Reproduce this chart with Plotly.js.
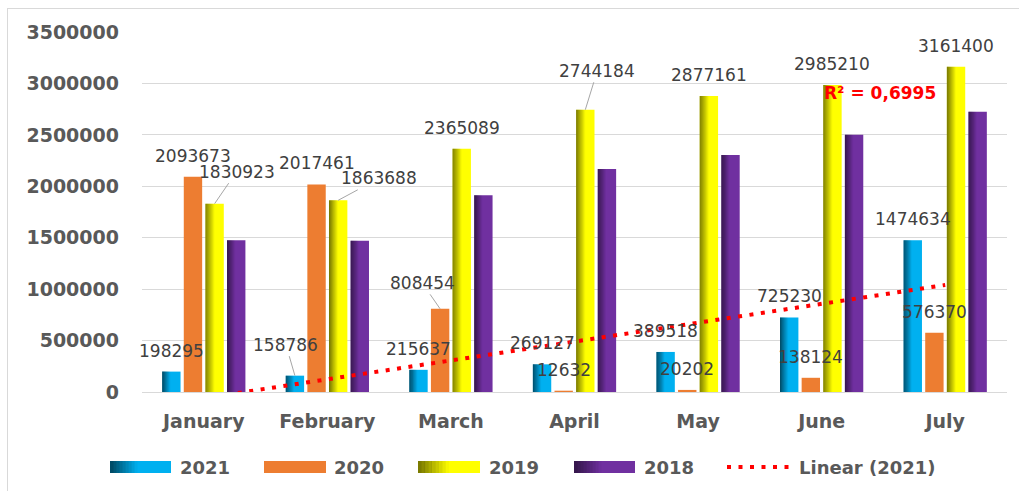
<!DOCTYPE html>
<html>
<head>
<meta charset="utf-8">
<script src="https://cdn.plot.ly/plotly-3.0.1.min.js"></script>
<style>html,body{margin:0;padding:0;background:#fff;}#chart{width:1019px;height:491px;}</style>
</head>
<body>
<div id="chart"></div>
<script>
// ---- data ----
const months = ['January', 'February', 'March', 'April', 'May', 'June', 'July'];
const seriesNames = ['2021', '2020', '2019', '2018'];
const v2021 = [198295, 158786, 215637, 269127, 389518, 725230, 1474634];
const v2020 = [2093673, 2017461, 808454, 12632, 20202, 138124, 576370];
const v2019 = [1830923, 1863688, 2365089, 2744184, 2877161, 2985210, 3161400];
const v2018 = [1476000, 1470000, 1914000, 2167000, 2303000, 2501000, 2724000];
const yTickVals = [0, 500000, 1000000, 1500000, 2000000, 2500000, 3000000, 3500000];
const yTickText = ['0', '500000', '1000000', '1500000', '2000000', '2500000', '3000000', '3500000'];
const trendName = 'Linear (2021)';
const r2Text = 'R\u00b2 = 0,6995';

// ---- styling ----
const values = [v2021, v2020, v2019, v2018];
const colors = ['#00b0f0', '#ed7d31', '#ffff00', '#7030a0'];
const shade = [0.6, 0.0, 0.55, 0.55];      // left-edge darkness (gradient imitation)
const shadeSpan = [0.45, 0, 0.5, 0.45];     // fraction of bar width shaded
const showLabels = [true, true, true, false];
// label leader offsets (px) for labels that Excel moved: key = series-index
const leaderOffsets = {'0-1': [-9, -31], '1-2': [-18, -26], '2-0': [22, -32], '2-1': [41, -22], '2-3': [12, -39]};

const L = 142, T = 32, W = 865, H = 360;
const px = x => (x - L) / W;
const py = y => (T + H - y) / H;

const G = 0.70, slot = G / 4, bw = slot * 0.85;
const offs = [0, 1, 2, 3].map(j => -G / 2 + j * slot + (slot - bw) / 2);

const traces = [];
const annotations = [];
const NS = 9;
values.forEach((vals, j) => {
  traces.push({type: 'bar', x: months, y: vals, name: seriesNames[j], offset: offs[j], width: bw,
    marker: {color: colors[j], line: {width: 0}}, showlegend: false, hoverinfo: 'x+y+name'});
  if (shade[j] > 0) {
    const sw = bw * shadeSpan[j] / NS;
    for (let k = 0; k < NS; k++) {
      const a = shade[j] * (1 - (k + 0.5) / NS);
      traces.push({type: 'bar', x: months, y: vals, offset: offs[j] + k * sw, width: sw * 1.02,
        marker: {color: 'rgba(0,0,0,' + a.toFixed(3) + ')', line: {width: 0}}, showlegend: false, hoverinfo: 'skip'});
    }
  }
  if (showLabels[j]) {
    vals.forEach((v, i) => {
      const key = j + '-' + i;
      const base = {x: i + offs[j] + bw / 2, y: v, xref: 'x', yref: 'y', text: String(v),
        font: {family: 'DejaVu Sans', size: 17, color: '#404040'}};
      if (leaderOffsets[key]) {
        const [ax, ay] = leaderOffsets[key];
        annotations.push(Object.assign(base, {showarrow: true, arrowhead: 0, arrowwidth: 1, arrowcolor: '#a6a6a6',
          ax: ax, ay: ay, standoff: 0, startstandoff: 0}));
      } else {
        annotations.push(Object.assign(base, {showarrow: false, xanchor: 'center', yanchor: 'middle', yshift: 21}));
      }
    });
  }
});

// linear trendline of 2021 (least squares)
const n = v2021.length;
const xs = v2021.map((_, i) => i + 1);
const mx = xs.reduce((a, b) => a + b, 0) / n;
const my = v2021.reduce((a, b) => a + b, 0) / n;
let sxy = 0, sxx = 0;
xs.forEach((x, i) => { sxy += (x - mx) * (v2021[i] - my); sxx += (x - mx) * (x - mx); });
const slope = sxy / sxx, icpt = my - slope * mx;
traces.push({type: 'scatter', mode: 'lines', x: months, y: xs.map(x => icpt + slope * x), name: trendName,
  line: {color: '#ff0000', width: 4, dash: '4px,7.5px'}, showlegend: false, hoverinfo: 'skip'});

annotations.push({xref: 'paper', yref: 'paper', x: px(880), y: py(93), text: r2Text, showarrow: false,
  xanchor: 'center', yanchor: 'middle', font: {family: 'DejaVu Sans', size: 17, color: '#ff0000', weight: 'bold'}});

// custom legend
const shapes = [];
const legendY = 467;
const legendItems = [
  {sx: 110, ex: 171, tx: 178},
  {sx: 264, ex: 326, tx: 332},
  {sx: 418, ex: 480, tx: 487},
  {sx: 574, ex: 635, tx: 642}
];
legendItems.forEach((it, j) => {
  shapes.push({type: 'rect', xref: 'paper', yref: 'paper', x0: px(it.sx), x1: px(it.ex), y0: py(legendY - 6), y1: py(legendY + 6),
    fillcolor: colors[j], line: {width: 0}, layer: 'above'});
  if (shade[j] > 0) {
    const wpx = (it.ex - it.sx) * shadeSpan[j] / NS;
    for (let k = 0; k < NS; k++) {
      const a = shade[j] * (1 - (k + 0.5) / NS);
      shapes.push({type: 'rect', xref: 'paper', yref: 'paper', x0: px(it.sx + k * wpx), x1: px(it.sx + (k + 1.05) * wpx),
        y0: py(legendY - 6), y1: py(legendY + 6), fillcolor: 'rgba(0,0,0,' + a.toFixed(3) + ')', line: {width: 0}, layer: 'above'});
    }
  }
  annotations.push({xref: 'paper', yref: 'paper', x: px(it.tx), y: py(legendY), text: seriesNames[j], showarrow: false,
    xanchor: 'left', yanchor: 'middle', font: {family: 'DejaVu Sans', size: 18, color: '#595959', weight: 'bold'}});
});
shapes.push({type: 'line', xref: 'paper', yref: 'paper', x0: px(727), x1: px(789), y0: py(legendY), y1: py(legendY),
  line: {color: '#ff0000', width: 4, dash: '4px,7.5px'}, layer: 'above'});
annotations.push({xref: 'paper', yref: 'paper', x: px(797), y: py(legendY), text: trendName, showarrow: false,
  xanchor: 'left', yanchor: 'middle', font: {family: 'DejaVu Sans', size: 18, color: '#595959', weight: 'bold'}});

// chart frame
shapes.push({type: 'line', xref: 'paper', yref: 'paper', x0: px(7.5), x1: px(7.5), y0: py(8), y1: py(495), line: {color: '#d9d9d9', width: 1}, layer: 'below'});
shapes.push({type: 'line', xref: 'paper', yref: 'paper', x0: px(7.5), x1: px(1025), y0: py(8.5), y1: py(8.5), line: {color: '#d9d9d9', width: 1}, layer: 'below'});

const layout = {
  width: 1019, height: 491,
  margin: {l: L, r: 1019 - L - W, t: T, b: 491 - T - H, pad: 0},
  paper_bgcolor: '#ffffff', plot_bgcolor: '#ffffff',
  barmode: 'overlay',
  showlegend: false,
  xaxis: {type: 'category', categoryorder: 'array', categoryarray: months, range: [-0.5, 6.5],
    showgrid: false, showline: false, zeroline: false, ticks: '', automargin: false, ticklabelstandoff: 16,
    tickfont: {family: 'DejaVu Sans', size: 19, color: '#595959', weight: 'bold'}},
  yaxis: {range: [0, 3500000], tickvals: yTickVals, ticktext: yTickText, showgrid: true, gridcolor: '#d9d9d9', gridwidth: 1,
    zeroline: true, zerolinecolor: '#d9d9d9', zerolinewidth: 1, showline: false, ticks: '', automargin: false,
    ticklabelstandoff: 22, tickfont: {family: 'DejaVu Sans', size: 19, color: '#595959', weight: 'bold'}},
  annotations: annotations,
  shapes: shapes
};

Plotly.newPlot('chart', traces, layout, {displayModeBar: false, staticPlot: true});
</script>
</body>
</html>
